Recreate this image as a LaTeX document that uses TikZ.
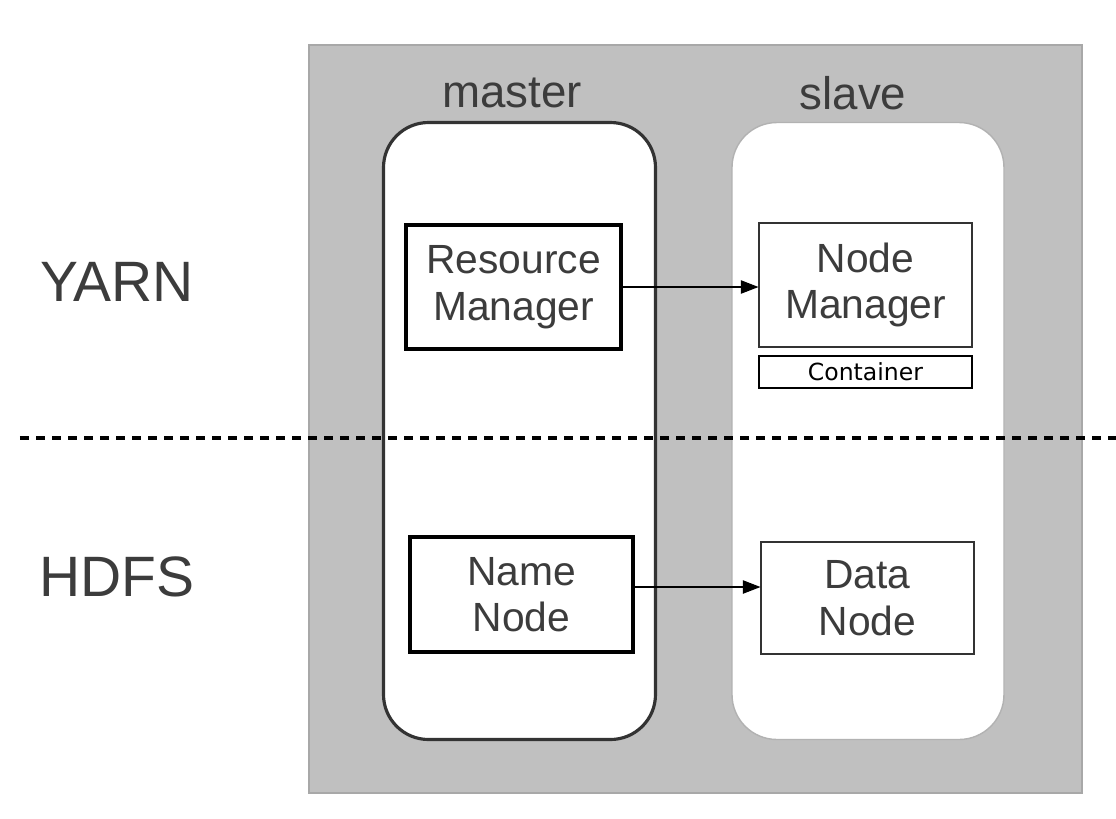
\documentclass[tikz,border=0pt]{standalone}
\usepackage{fontspec}
\setmainfont{Liberation Sans}
\newfontfamily\dejavu{DejaVu Sans}
\usetikzlibrary{arrows.meta,positioning,calc}

\definecolor{panelgray}{HTML}{C0C0C0}
\definecolor{paneledge}{HTML}{A8A8A8}
\definecolor{txtgray}{HTML}{3C3C3C}
\definecolor{edgegray}{HTML}{333333}

\begin{document}
\begin{tikzpicture}[
    panel/.style={draw=paneledge, fill=panelgray, line width=0.4pt, minimum width=7.73cm, minimum height=7.48cm, inner sep=0pt},
    host/.style={fill=white, rounded corners=0.45cm, minimum width=2.72cm, minimum height=6.17cm, inner sep=0pt},
    hdr/.style={font=\fontsize{13}{15}\selectfont, text=txtgray},
    side/.style={font=\fontsize{16.2}{18}\selectfont, text=txtgray},
    svc/.style={draw, fill=white, align=center, inner sep=0pt, font=\fontsize{11.6}{13.2}\selectfont, text=txtgray},
    arr/.style={-{Triangle[length=5pt,width=3.8pt]}, line width=0.3pt}
]
\useasboundingbox (0,0) rectangle (11.16,-8.19);

\node[panel] (cluster) at (6.955,-4.19) {};
\node[host, draw=edgegray, line width=0.9pt] (master) at (5.195,-4.31) {};
\node[host, draw=black!30, line width=0.4pt] (slave) at (8.68,-4.31) {};
\node[hdr] (masterlbl) at (5.12,-0.93) {master};
\node[hdr] (slavelbl) at (8.53,-0.93) {slave};

\node[side] (yarn) at (1.17,-2.82) {YARN};
\node[side] (hdfs) at (1.17,-5.77) {HDFS};

\node[svc, line width=1.05pt, draw=black, minimum width=2.15cm, minimum height=1.24cm] (rm) at (5.135,-2.87) {Resource\\Manager};
\node[svc, line width=0.3pt, draw=edgegray, minimum width=2.13cm, minimum height=1.24cm] (nm) at (8.655,-2.85) {Node\\Manager};
\node[svc, line width=0.3pt, draw=black, minimum width=2.13cm, minimum height=0.32cm, font=\dejavu\fontsize{6.7}{8}\selectfont, text=black] (cont) at (8.655,-3.72) {Container};
\node[svc, line width=1.05pt, draw=black, minimum width=2.23cm, minimum height=1.15cm] (nn) at (5.215,-5.945) {Name\\Node};
\node[svc, line width=0.3pt, draw=edgegray, minimum width=2.13cm, minimum height=1.12cm] (dn) at (8.675,-5.98) {Data\\Node};

\coordinate (cutL) at (0.2,-4.38);
\coordinate (cutR) at (11.16,-4.38);
\draw[line width=1.1pt, dash pattern=on 0.09cm off 0.07cm] (cutL) -- (cutR);

\draw[arr] (rm.east) -- (rm.east -| nm.west);
\draw[arr] ([yshift=0.075cm]nn.east) -- ([yshift=0.075cm]nn.east -| dn.west);
\end{tikzpicture}
\end{document}
